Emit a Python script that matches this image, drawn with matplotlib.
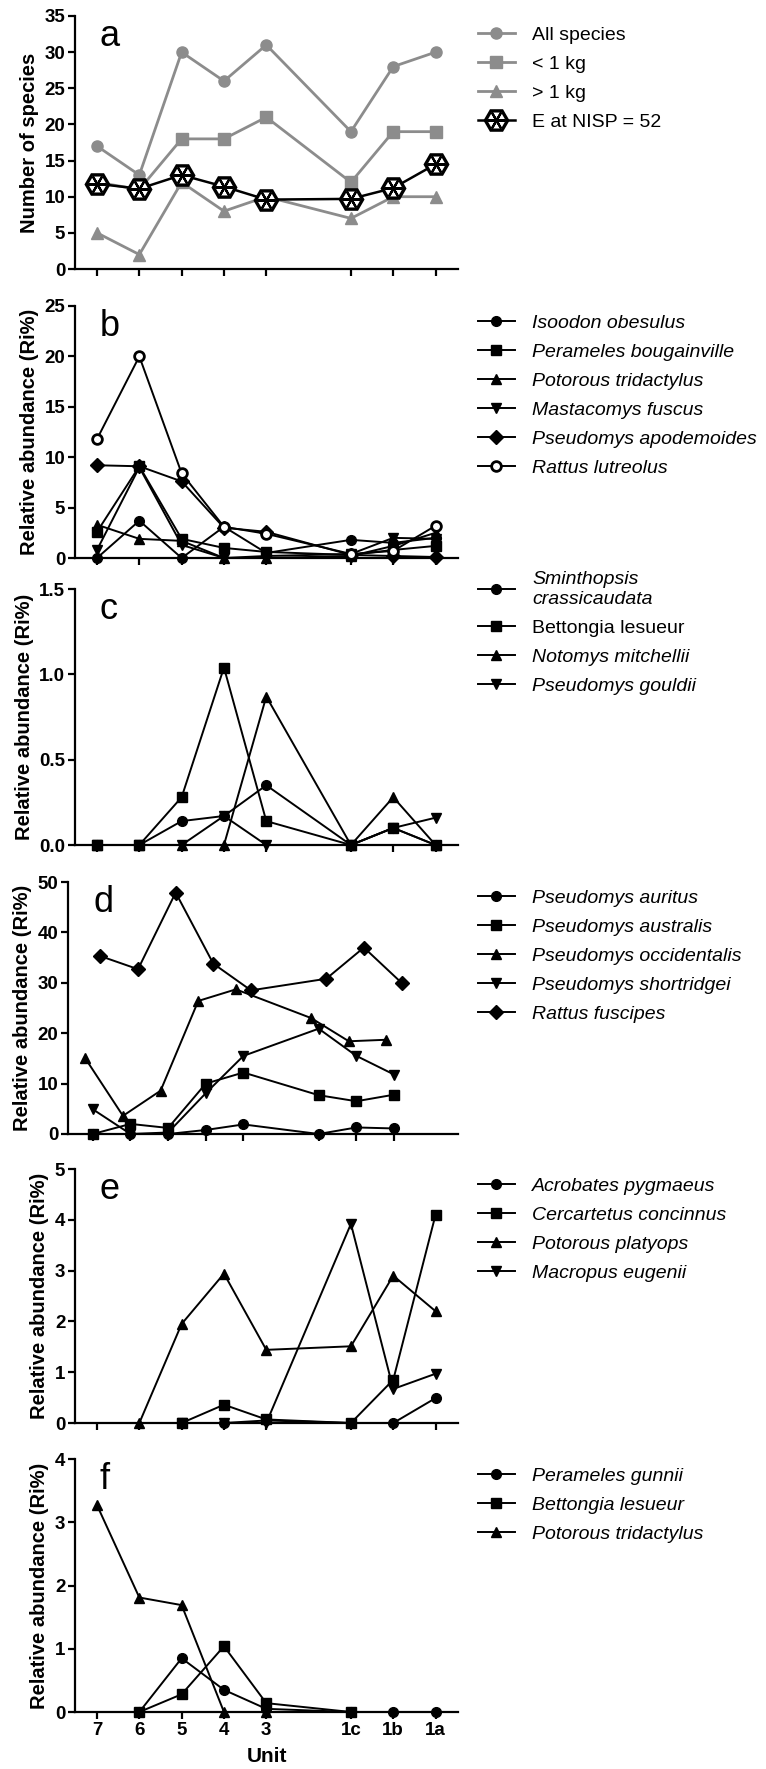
import numpy as np
import matplotlib
matplotlib.use("Agg")
import matplotlib.pyplot as plt
from matplotlib.legend_handler import HandlerTuple

plt.rcParams['font.family'] = ['Liberation Sans', 'DejaVu Sans']

nan = np.nan
units = ["7", "6", "5", "4", "3", "1c", "1b", "1a"]
unit_pos = np.array([0, 1, 2, 3, 4, 6, 7, 8])

# panel a - number of species
all_species = [17, 13, 30, 26, 31, 19, 28, 30]
under_1kg = [12, 11, 18, 18, 21, 12, 19, 19]
over_1kg = [5, 2, 12, 8, 10, 7, 10, 10]
e_nisp52 = [11.8, 11.1, 13.0, 11.4, 9.6, 9.7, 11.2, 14.5]

# panel b
isoodon = [0, 3.7, 0, 3.1, 0.5, 1.8, 1.5, 2.0]
perameles_b = [2.6, 9.1, 1.9, 1.0, 0.6, 0.3, 0.8, 1.2]
potorous_t = [3.3, 1.9, 1.7, 0, 0, 0.2, 1.2, 2.5]
mastacomys = [0.8, 9.0, 1.3, 0, 0.2, 0.4, 2.0, 1.9]
apodemoides = [9.2, 9.1, 7.6, 3.0, 2.6, 0.3, 0.2, 0.1]
lutreolus = [11.8, 20.0, 8.4, 3.1, 2.4, 0.4, 0.7, 3.2]

# panel c
sminthopsis = [0, 0, 0.14, 0.17, 0.35, 0, 0.1, 0]
bettongia_c = [0, 0, 0.28, 1.04, 0.14, 0, 0.1, 0]
notomys = [0, 0, 0, 0, 0.87, 0, 0.28, 0]
gouldii = [0, 0, 0, 0.17, 0, 0, 0.1, 0.16]

# panel d
auritus = [0, 0, 0, 0.8, 1.9, 0, 1.3, 1.1]
australis = [0, 2.0, 1.2, 10.0, 12.2, 7.7, 6.5, 7.8]
occidentalis = [15.0, 3.6, 8.6, 26.4, 28.7, 23.0, 18.4, 18.7]
shortridgei = [4.9, 0, 0.3, 8.1, 15.5, 20.9, 15.5, 11.8]
fuscipes = [35.3, 32.7, 47.9, 33.8, 28.5, 30.8, 37.0, 30.0]

# panel e
acrobates = [nan, nan, 0, 0, 0.05, 0, 0, 0.49]
cercartetus = [nan, nan, 0, 0.36, 0.07, 0, 0.85, 4.1]
platyops = [nan, 0, 1.95, 2.94, 1.44, 1.51, 2.9, 2.2]
eugenii = [nan, nan, 0, 0, 0, 3.92, 0.67, 0.97]

# panel f
gunnii = [nan, 0, 0.85, 0.35, 0.05, 0, 0, 0]
bettongia_f = [nan, 0, 0.28, 1.04, 0.14, 0, nan, nan]
potorous_f = [3.27, 1.81, 1.69, 0, 0, nan, nan, nan]

gray = "#8c8c8c"
W, H = 766, 1769
fig = plt.figure(figsize=(W / 100, H / 100), dpi=100)


def make_axes(top, bottom, left=75, right=458):
    return fig.add_axes([left / W, 1 - bottom / H, (right - left) / W, (bottom - top) / H])


def style_axes(ax, ylim, yticks, letter, fmt=None, xlim=(-0.52, 8.53), labels=False):
    ax.set_xlim(*xlim)
    ax.set_ylim(*ylim)
    ax.set_yticks(yticks)
    if fmt:
        ax.set_yticklabels([fmt.format(v) for v in yticks])
    ax.set_xticks(unit_pos)
    ax.set_xticklabels(units if labels else [])
    for s in ["top", "right"]:
        ax.spines[s].set_visible(False)
    for s in ["left", "bottom"]:
        ax.spines[s].set_linewidth(1.6)
    ax.tick_params(direction="out", length=5, width=1.6, labelsize=13.5, pad=2)
    for t in ax.get_yticklabels() + ax.get_xticklabels():
        t.set_fontweight("bold")
    ax.set_ylabel("Relative abundance (Ri%)", fontsize=14.5, fontweight="bold", labelpad=4)
    ax.text(0.065, 0.99, letter, transform=ax.transAxes, fontsize=26, va="top", ha="left")


def draw(ax, series, markers, x=unit_pos, offsets=None, open_idx=()):
    handles = []
    for i, (vals, m) in enumerate(zip(series, markers)):
        xx = x + (offsets[i] if offsets else 0)
        mfc = "white" if i in open_idx else "black"
        h, = ax.plot(xx, vals, color="black", lw=1.4, marker=m, ms=7,
                     mfc=mfc, mec="black", mew=2 if i in open_idx else 1, clip_on=False, zorder=3)
        handles.append(h)
    return handles


def add_legend(handles, names, y_px, italic=None, **kw):
    leg = fig.legend(handles, names, loc="upper left", bbox_to_anchor=(478 / W, 1 - y_px / H),
                     frameon=False, fontsize=14, handlelength=1.9, handletextpad=0.9,
                     labelspacing=0.59, borderpad=0, borderaxespad=0, **kw)
    for i, t in enumerate(leg.get_texts()):
        if italic is None or italic[i]:
            t.set_fontstyle("italic")
    return leg


# ---- a
ax = make_axes(16, 269)
l1, = ax.plot(unit_pos, all_species, color=gray, lw=2, marker="o", ms=8, clip_on=False)
l2, = ax.plot(unit_pos, under_1kg, color=gray, lw=2, marker="s", ms=8, clip_on=False)
l3, = ax.plot(unit_pos, over_1kg, color=gray, lw=2, marker="^", ms=8, clip_on=False)
l4, = ax.plot(unit_pos, e_nisp52, color="black", lw=1.8, marker="H", ms=16,
              mfc="white", mec="black", mew=2.4, zorder=4)
l5, = ax.plot(unit_pos, e_nisp52, ls="none", marker=(6, 2, 30), ms=13,
              mec="black", mew=1.6, zorder=5)
style_axes(ax, (0, 35), range(0, 36, 5), "a")
ax.set_ylabel("Number of species", fontsize=14.5, fontweight="bold", labelpad=4)
add_legend([l1, l2, l3, (l4, l5)], ["All species", "< 1 kg", "> 1 kg", "E at NISP = 52"],
           26, italic=[False] * 4, handler_map={tuple: HandlerTuple(ndivide=1)})

# ---- b
ax = make_axes(306, 558)
names = ["Isoodon obesulus", "Perameles bougainville", "Potorous tridactylus",
         "Mastacomys fuscus", "Pseudomys apodemoides", "Rattus lutreolus"]
hs = draw(ax, [isoodon, perameles_b, potorous_t, mastacomys, apodemoides, lutreolus],
          ["o", "s", "^", "v", "D", "o"], open_idx=(5,))
style_axes(ax, (0, 25), range(0, 26, 5), "b")
add_legend(hs, names, 314)

# ---- c
ax = make_axes(589, 845)
names = ["Sminthopsis\ncrassicaudata", "Bettongia lesueur", "Notomys mitchellii", "Pseudomys gouldii"]
hs = draw(ax, [sminthopsis, bettongia_c, notomys, gouldii], ["o", "s", "^", "v"])
style_axes(ax, (0, 1.5), [0, 0.5, 1.0, 1.5], "c", fmt="{:.1f}")
add_legend(hs, names, 571, italic=[True, False, True, True])

# ---- d
ax = make_axes(882, 1134, left=68)
names = ["Pseudomys auritus", "Pseudomys australis", "Pseudomys occidentalis",
         "Pseudomys shortridgei", "Rattus fuscipes"]
hs = draw(ax, [auritus, australis, occidentalis, shortridgei, fuscipes],
          ["o", "s", "^", "v", "D"], offsets=[0, 0, -0.2, 0, 0.2])
style_axes(ax, (0, 50), range(0, 51, 10), "d", xlim=(-0.66, 9.7))
add_legend(hs, names, 889)

# ---- e
ax = make_axes(1169, 1423)
names = ["Acrobates pygmaeus", "Cercartetus concinnus", "Potorous platyops", "Macropus eugenii"]
hs = draw(ax, [acrobates, cercartetus, platyops, eugenii], ["o", "s", "^", "v"])
style_axes(ax, (0, 5), range(0, 6), "e")
add_legend(hs, names, 1177)

# ---- f
ax = make_axes(1459, 1712)
names = ["Perameles gunnii", "Bettongia lesueur", "Potorous tridactylus"]
hs = draw(ax, [gunnii, bettongia_f, potorous_f], ["o", "s", "^"])
style_axes(ax, (0, 4), range(0, 5), "f", labels=True)
ax.set_xlabel("Unit", fontsize=15, fontweight="bold", labelpad=6)
add_legend(hs, names, 1467)

fig.savefig("out.png", dpi=100)
